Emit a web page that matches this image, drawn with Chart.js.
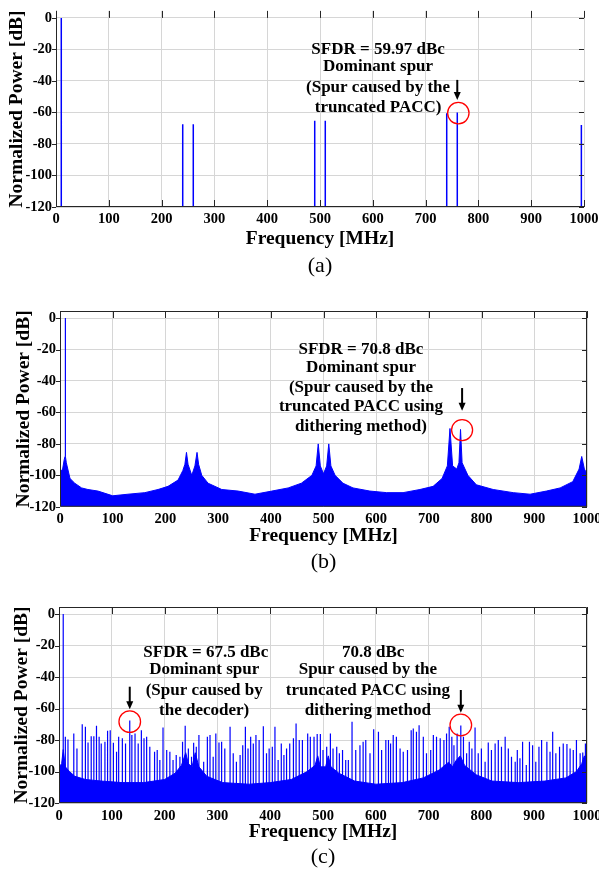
<!DOCTYPE html>
<html>
<head>
<meta charset="utf-8">
<script src="https://cdn.jsdelivr.net/npm/chart.js@4.4.0/dist/chart.umd.min.js"></script>
<style>
  body { margin: 0; background: #fff; }
  canvas { position: absolute; left: 0; }
</style>
</head>
<body>
<canvas id="chartA" width="599" height="290" style="top:0px"></canvas>
<canvas id="chartB" width="599" height="290" style="top:290px"></canvas>
<canvas id="chartC" width="599" height="293" style="top:580px"></canvas>
<script>
// tick labels
const freqTicks = [0, 100, 200, 300, 400, 500, 600, 700, 800, 900, 1000];
const powerTicks = [0, -20, -40, -60, -80, -100, -120];

// (a) spurs only
const aSpurFreq = [10, 240, 260, 490, 510, 740, 760, 995];
const aSpurPower = [0, -67.5, -67.5, -65.2, -65.2, -60.5, -59.97, -68];

// (b) dithered spectrum, upper envelope
const bFreq = [0, 5, 8, 9.5, 10, 10.5, 12, 19, 28, 41, 53, 72, 100, 129, 161, 186, 205, 224, 233, 237, 240, 243,
  250, 256, 260, 263, 269, 281, 307, 338, 370, 402, 433, 458, 478, 486, 490, 494, 500, 506, 510, 514, 522, 537,
  556, 588, 620, 651, 683, 708, 725, 735, 740, 745, 753, 757, 760, 763, 774, 790, 822, 860, 892, 923, 949, 973,
  985, 990, 995, 1000];
const bPower = [-98, -96, -90, -88, 0, -88, -92, -102, -105, -108, -109, -110, -113, -112, -111, -109, -107, -103, -97, -93, -85.4, -93,
  -100, -94, -85.4, -93, -100, -105, -109, -110, -112, -110, -108, -105, -100, -94, -80, -94, -99, -94, -80, -94, -100, -105,
  -108, -110, -111, -111, -109, -107, -102, -94, -70.2, -94, -96, -92, -70.8, -92, -100, -106, -109, -111, -112, -110, -108, -104,
  -96, -88, -96, -99];

// (c) decoder version: noise floor envelope
const cFloorFreq = [0, 5, 8, 12, 20, 30, 50, 80, 120, 160, 200, 220, 232, 240, 245, 252, 258, 265, 280, 310, 360, 400,
  440, 470, 485, 490, 495, 505, 510, 515, 530, 560, 600, 650, 690, 720, 738, 745, 752, 760, 768, 790, 820, 870,
  920, 960, 980, 990, 995, 1000];
const cFloorPower = [-97, -95, -86, -97, -100, -103, -105, -106, -107, -107, -105, -101, -96, -88, -95, -97, -88, -97, -103, -107, -108, -107,
  -105, -100, -96, -90, -97, -97, -90, -97, -101, -106, -108, -107, -104, -99, -94, -97, -93, -90, -96, -102, -106, -107,
  -106, -104, -100, -95, -90, -96];

// (c) discrete spurs
const cSpurFreq = [8, 12, 17, 28, 34, 44, 50, 55, 61, 66, 71, 76, 80, 87, 92, 97, 103, 109, 113, 120, 126, 134, 138,
  144, 150, 156, 161, 166, 172, 181, 186, 191, 197, 204, 210, 216, 222, 229, 234, 239, 245, 251, 255, 260, 265,
  274, 281, 286, 292, 297, 303, 308, 314, 324, 330, 336, 343, 348, 353, 358, 363, 368, 373, 379, 387, 393, 398,
  404, 409, 415, 421, 426, 431, 437, 444, 449, 455, 461, 471, 476, 483, 489, 495, 500, 507, 514, 519, 526, 531,
  537, 543, 548, 555, 562, 570, 576, 581, 589, 596, 605, 611, 619, 624, 628, 633, 639, 646, 652, 660, 667, 671,
  677, 682, 690, 696, 704, 709, 715, 722, 729, 734, 739, 744, 748, 754, 761, 766, 772, 777, 782, 788, 794, 800,
  807, 813, 819, 826, 832, 838, 845, 851, 857, 864, 868, 873, 878, 885, 891, 897, 903, 909, 914, 924, 930, 935,
  941, 948, 955, 962, 968, 974, 980, 987, 992, 997];
const cSpurPower = [0, -77.9, -79.6, -75.8, -85.3, -69.9, -71.6, -81.5, -77.5, -77.5, -70.9, -77.9, -82.1, -81.1, -74.1, -73.7, -81.7, -87.4, -77.9, -78.9, -82.1, -67.5, -76.8,
  -75.8, -82.1, -73.7, -78.9, -77.9, -84.2, -87.4, -86.3, -92.6, -72.0, -86.3, -87.4, -92.6, -89.5, -90.5, -81.1, -70.9, -85.3, -90.5, -81.7, -84.2, -76.8,
  -93.7, -77.9, -76.8, -90.5, -75.8, -81.5, -81.1, -85.3, -71.6, -88.4, -93.7, -89.5, -83.2, -71.6, -85.3, -77.9, -82.1, -76.8, -80.0, -71.2, -88.4, -85.3,
  -84.2, -71.6, -92.6, -82.1, -89.5, -85.3, -82.1, -78.9, -69.5, -80.0, -80.0, -75.8, -77.9, -77.9, -76.2, -76.2, -86.3, -84.2, -75.8, -85.3, -84.2, -88.4,
  -86.3, -92.6, -92.6, -68.4, -86.3, -83.2, -81.1, -80.0, -88.4, -73.1, -74.7, -86.3, -80.0, -80.0, -82.1, -76.8, -77.9, -85.3, -87.4, -86.3, -73.7, -72.6,
  -74.7, -70.5, -77.9, -88.4, -86.3, -76.8, -77.9, -78.9, -80.0, -75.8, -71.6, -77.9, -83.2, -75.8, -70.8, -77.9, -88.4, -81.1, -85.3, -72.0, -88.4, -85.3,
  -93.7, -81.5, -86.3, -82.1, -80.0, -84.2, -77.9, -85.3, -90.5, -93.7, -86.3, -91.6, -81.1, -95.8, -81.1, -83.2, -93.7, -84.2, -80.0, -81.1, -87.4, -74.7,
  -88.4, -84.2, -82.1, -82.5, -85.3, -86.3, -80.0, -88.4, -87.8, -82.1];

const BLUE = '#0000ff';
const tickFont = { family: 'Liberation Serif', size: 14.5, weight: 'bold' };
const titleFont = { family: 'Liberation Serif', size: 19.5, weight: 'bold' };

function points(xs, ys) {
  return xs.map((x, i) => ({ x: x, y: ys[i] }));
}

// each spur is a vertical segment from the axis floor, separated by gaps
function spikes(xs, ys) {
  const out = [];
  xs.forEach((x, i) => {
    out.push({ x: x, y: -120 }, { x: x, y: ys[i] }, { x: x, y: null });
  });
  return out;
}

const framePlugin = {
  id: 'notes',
  afterDraw(chart, args, opts) {
    const { ctx, chartArea: a, scales: { x, y } } = chart;
    ctx.save();
    ctx.strokeStyle = '#262626';
    ctx.lineWidth = 1;
    ctx.beginPath();
    ctx.moveTo(a.left + 0.5, a.top);
    ctx.lineTo(a.left + 0.5, a.bottom - 0.5);
    ctx.lineTo(a.right, a.bottom - 0.5);
    if (opts.box) {
      ctx.moveTo(a.left, a.top + 0.5);
      ctx.lineTo(a.right - 0.5, a.top + 0.5);
      ctx.lineTo(a.right - 0.5, a.bottom);
    }
    freqTicks.forEach(v => {
      const px = Math.round(x.getPixelForValue(v)) + 0.5;
      ctx.moveTo(px, a.top);
      ctx.lineTo(px, a.top + 7);
      if (opts.bottomTicks) {
        ctx.moveTo(px, a.bottom);
        ctx.lineTo(px, a.bottom - 7);
      }
    });
    powerTicks.forEach(v => {
      const py = Math.round(y.getPixelForValue(v)) + 0.5;
      ctx.moveTo(a.right, py);
      ctx.lineTo(a.right - 5, py);
      ctx.moveTo(a.left, py);
      ctx.lineTo(a.left - 4, py);
    });
    ctx.stroke();

    // annotation text
    ctx.fillStyle = '#000';
    ctx.font = 'bold 17px "Liberation Serif"';
    ctx.textAlign = 'center';
    ctx.textBaseline = 'middle';
    opts.lines.forEach(([t, fx, db]) => {
      ctx.fillText(t, x.getPixelForValue(fx), y.getPixelForValue(db));
    });

    // arrows
    opts.arrows.forEach(([fx, db1, db2]) => {
      const px = x.getPixelForValue(fx);
      const y1 = y.getPixelForValue(db1);
      const y2 = y.getPixelForValue(db2);
      ctx.strokeStyle = '#000';
      ctx.lineWidth = 2;
      ctx.beginPath();
      ctx.moveTo(px, y1);
      ctx.lineTo(px, y2 - 6);
      ctx.stroke();
      ctx.beginPath();
      ctx.moveTo(px - 3.5, y2 - 8);
      ctx.lineTo(px + 3.5, y2 - 8);
      ctx.lineTo(px, y2);
      ctx.closePath();
      ctx.fill();
    });

    // red circles round the spurs
    ctx.strokeStyle = '#ff0000';
    ctx.lineWidth = 1.3;
    opts.circles.forEach(([fx, db, r]) => {
      ctx.beginPath();
      ctx.arc(x.getPixelForValue(fx), y.getPixelForValue(db), r, 0, Math.PI * 2);
      ctx.stroke();
    });

    // panel label
    ctx.font = '22px "Liberation Serif"';
    ctx.fillStyle = '#000';
    ctx.fillText(opts.label, (a.left + a.right) / 2, opts.labelY);
    ctx.restore();
  }
};

function makeChart(id, cfg) {
  return new Chart(document.getElementById(id), {
    type: 'line',
    data: { datasets: cfg.datasets },
    options: {
      responsive: false,
      animation: false,
      events: [],
      layout: { padding: cfg.padding },
      plugins: {
        legend: { display: false },
        tooltip: { enabled: false },
        notes: cfg.notes
      },
      scales: {
        x: {
          type: 'linear', min: 0, max: 1000,
          afterBuildTicks: s => { s.ticks = freqTicks.map(v => ({ value: v })); },
          afterFit: s => { s.height = 50; s.paddingLeft = 0; s.paddingRight = 0; },
          grid: { color: '#d6d6d6', drawTicks: false },
          border: { display: false },
          ticks: { padding: 4, font: tickFont, color: '#000', maxRotation: 0, autoSkip: false,
                   callback: v => String(v) },
          title: { display: true, text: 'Frequency [MHz]', font: titleFont, color: '#000',
                   padding: { top: 0, bottom: cfg.xTitlePad } }
        },
        y: {
          type: 'linear', min: -120, max: 4.5,
          afterBuildTicks: s => { s.ticks = powerTicks.map(v => ({ value: v })); },
          afterFit: s => { s.width = cfg.yWidth; s.paddingTop = 0; s.paddingBottom = 0; },
          grid: { color: '#d6d6d6', drawTicks: false },
          border: { display: false },
          ticks: { padding: 4, font: tickFont, color: '#000', callback: v => String(v) },
          title: { display: true, text: 'Normalized Power [dB]', font: titleFont, color: '#000',
                   padding: { top: cfg.yTitlePad, bottom: 0 } }
        }
      }
    },
    plugins: [framePlugin]
  });
}

makeChart('chartA', {
  padding: { left: 0, right: 15, top: 10.9, bottom: 33 },
  yWidth: 56, xTitlePad: 6.3, yTitlePad: 5.3,
  datasets: [{
    data: spikes(aSpurFreq, aSpurPower),
    borderColor: BLUE, borderWidth: 1.5, pointRadius: 0, fill: false, spanGaps: false
  }],
  notes: {
    box: false, bottomTicks: true, label: '(a)', labelY: 266,
    lines: [['SFDR = 59.97 dBc', 610, -19.9], ['Dominant spur', 610, -30.7],
            ['(Spur caused by the', 610, -44.1], ['truncated PACC)', 610, -57.1]],
    arrows: [[760, -39.3, -52]],
    circles: [[762, -60.4, 10.7]]
  }
});

makeChart('chartB', {
  padding: { left: 0, right: 12, top: 21, bottom: 23.2 },
  yWidth: 60, xTitlePad: 9.1, yTitlePad: 11.8,
  datasets: [{
    data: points(bFreq, bPower),
    borderColor: BLUE, backgroundColor: BLUE, borderWidth: 1, pointRadius: 0, fill: 'start', tension: 0
  }],
  notes: {
    box: true, bottomTicks: false, label: '(b)', labelY: 272,
    lines: [['SFDR = 70.8 dBc', 571, -20.0], ['Dominant spur', 571, -31.5],
            ['(Spur caused by the', 571, -44.2], ['truncated PACC using', 571, -56.6],
            ['dithering method)', 571, -69.3]],
    arrows: [[763, -44.5, -58.9]],
    circles: [[763, -71.2, 10.5]]
  }
});

makeChart('chartC', {
  padding: { left: 0, right: 12, top: 27, bottom: 19.9 },
  yWidth: 59, xTitlePad: 9.4, yTitlePad: 10.3,
  datasets: [{
    data: spikes(cSpurFreq, cSpurPower),
    borderColor: BLUE, borderWidth: 1.2, pointRadius: 0, fill: false, spanGaps: false
  }, {
    data: points(cFloorFreq, cFloorPower),
    borderColor: BLUE, backgroundColor: BLUE, borderWidth: 1, pointRadius: 0, fill: 'start', tension: 0
  }],
  notes: {
    box: true, bottomTicks: false, label: '(c)', labelY: 277,
    lines: [['SFDR = 67.5 dBc', 278, -24.4], ['Dominant spur', 275, -35.4],
            ['(Spur caused by', 275, -48.5], ['the decoder)', 275, -61.2],
            ['70.8 dBc', 595, -24.4], ['Spur caused by the', 585, -35.4],
            ['truncated PACC using', 585, -48.8], ['dithering method', 585, -61.2]],
    arrows: [[134, -46.1, -60.4], [761, -48.2, -62.6]],
    circles: [[134, -68.3, 10.8], [761, -70.4, 10.8]]
  }
});
</script>
</body>
</html>
